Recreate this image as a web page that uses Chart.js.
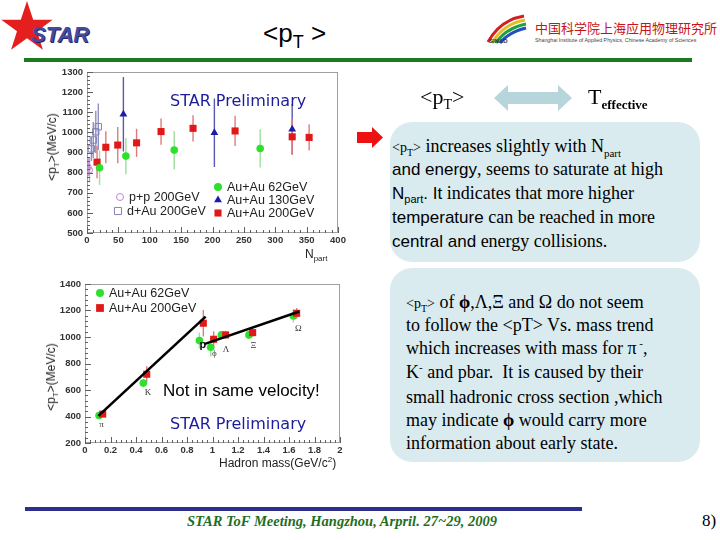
<!DOCTYPE html>
<html><head><meta charset="utf-8">
<script src="https://cdn.jsdelivr.net/npm/chart.js@4.4.1/dist/chart.umd.min.js"></script>
<style>
body{margin:0;background:#fff;}
#slide{position:relative;width:720px;height:540px;overflow:hidden;background:#fff;font-family:'Liberation Sans',Arial,sans-serif;color:#000;}
.abs{position:absolute;white-space:nowrap;}
.tm{font-family:'Liberation Serif','Times New Roman',serif;}
.ar{font-family:'Liberation Sans',Arial,sans-serif;}
.box{position:absolute;background:#d9ebef;border-radius:22px;}
.ln{position:absolute;white-space:nowrap;line-height:24px;height:24px;}
sub,sup{line-height:0;}
.cw{position:absolute;}
</style></head>
<body><div id="slide">
<!-- header -->
<svg class="abs" style="left:0;top:0" width="60" height="56"><polygon points="27,1 33.2,19.7 52.7,19.7 37,31.3 42.9,49.8 27,38.3 11.1,49.8 17,31.3 1.3,19.7 20.8,19.7" fill="#e51e1e"/></svg>
<div class="abs" style="left:31px;top:22px;font:italic bold 22px 'Liberation Sans',Arial;color:#4848a0;text-shadow:1px 1px 0 #2a2a60;">STAR</div>
<div class="abs ar" style="left:263px;top:18px;font-size:26px;">&lt;p<sub style="font-size:18px">T</sub> &gt;</div>
<svg class="abs" style="left:484px;top:12px" width="46" height="38">
<path d="M4,30 Q16,8 40,4" stroke="#d02020" stroke-width="3" fill="none"/>
<path d="M8,31 Q19,12 41,8" stroke="#e0c020" stroke-width="3" fill="none"/>
<path d="M12,31 Q22,16 42,12" stroke="#20a040" stroke-width="3" fill="none"/>
<path d="M16,31 Q25,20 42,16" stroke="#2050c0" stroke-width="3" fill="none"/>
</svg>
<div class="abs ar" style="left:489px;top:38px;font-size:6px;font-weight:bold;color:#333;">SINAD</div>
<div class="abs" style="left:535px;top:18px;font:13px 'Noto Sans CJK SC';color:#c81414;">中国科学院上海应用物理研究所</div>
<div class="abs ar" style="left:535px;top:37px;font-size:5.3px;color:#444;">Shanghai Institute of Applied Physics, Chinese Academy of Sciences</div>
<div class="abs" style="left:24px;top:58px;width:668px;height:3.5px;background:#1e7a1e;"></div>

<!-- top chart -->
<div class="cw" style="left:30px;top:62px;width:320px;height:200px;"><canvas id="c1"></canvas></div>
<div class="abs ar" style="left:52px;top:147px;font-size:12px;color:#222;transform:translate(-50%,-50%) rotate(-90deg);">&lt;p<sub style="font-size:8px">T</sub>&gt;(MeV/c)</div>
<div class="abs ar" style="left:305px;top:247px;font-size:12px;color:#222;">N<sub style="font-size:8px">part</sub></div>
<div class="abs" style="left:170px;top:91px;font:16px 'DejaVu Sans',Verdana;color:#1c1c9c;">STAR Preliminary</div>

<!-- bottom chart -->
<div class="cw" style="left:30px;top:272px;width:320px;height:200px;"><canvas id="c2"></canvas></div>
<div class="abs ar" style="left:51px;top:377px;font-size:12px;color:#222;transform:translate(-50%,-50%) rotate(-90deg);">&lt;p<sub style="font-size:8px">T</sub>&gt;(MeV/c)</div>
<div class="abs ar" style="left:219px;top:456px;font-size:12px;color:#222;">Hadron mass(GeV/c<sup style="font-size:8px">2</sup>)</div>
<div class="abs ar" style="left:163px;top:381px;font-size:17px;color:#000;">Not in same velocity!</div>
<div class="abs" style="left:170px;top:414px;font:16px 'DejaVu Sans',Verdana;color:#1c1c9c;">STAR Preliminary</div>

<!-- right side -->
<div class="abs tm" style="left:420px;top:84px;font-size:22px;">&lt;p<sub style="font-size:14px">T</sub>&gt;</div>
<svg class="abs" style="left:494px;top:84px" width="80" height="28"><polygon points="0,14 14,1 14,8 64,8 64,1 78,14 64,27 64,20 14,20 14,27" fill="#b6d6dc"/></svg>
<div class="abs tm" style="left:588px;top:84px;font-size:22px;">T<sub style="font-size:13px;font-weight:bold">effective</sub></div>
<svg class="abs" style="left:355px;top:127px" width="30" height="22"><polygon points="2,5 17,5 17,0 28,10.5 17,21 17,16 2,16" fill="#ee1111"/></svg>

<div class="box" style="left:390px;top:122px;width:310px;height:140px;"></div>
<div class="box" style="left:390px;top:268px;width:310px;height:194px;"></div>
<div class="ln tm" style="left:392px;top:134px;font-size:18px;"><span style="font-size:14px">&lt;p<sub style="font-size:10px">T</sub>&gt;</span> increases slightly with N<sub style="font-size:11px">part</sub></div>
<div class="ln tm" style="left:392px;top:157px;font-size:18px;"><span class="ar" style="font-size:17px">and energy</span>, seems to saturate at high</div>
<div class="ln tm" style="left:392px;top:181px;font-size:18px;"><span class="ar" style="font-size:17px">N<sub style="font-size:11px">part</sub>. It</span> indicates that more higher</div>
<div class="ln tm" style="left:392px;top:205px;font-size:18px;"><span class="ar" style="font-size:17px">temperature</span> can be reached in more</div>
<div class="ln tm" style="left:392px;top:229px;font-size:18px;"><span class="ar" style="font-size:17px">central and</span> energy collisions.</div>

<div class="ln tm" style="left:406px;top:290px;font-size:18px;"><span style="font-size:14px">&lt;p<sub style="font-size:10px">T</sub>&gt;</span> of <b>ϕ</b>,Λ,Ξ and Ω do not seem</div>
<div class="ln tm" style="left:406px;top:313px;font-size:18px;">to follow the &lt;pT&gt; Vs. mass trend</div>
<div class="ln tm" style="left:406px;top:336px;font-size:18px;">which increases with mass for π<sup style="font-size:11px"> -</sup>,</div>
<div class="ln tm" style="left:406px;top:360px;font-size:18px;">K<sup style="font-size:11px">-</sup> and pbar.&nbsp; It is caused by their</div>
<div class="ln tm" style="left:406px;top:385px;font-size:18px;">small hadronic cross section ,which</div>
<div class="ln tm" style="left:406px;top:408px;font-size:18px;">may indicate <b>ϕ</b> would carry more</div>
<div class="ln tm" style="left:406px;top:431px;font-size:18px;">information about early state.</div>

<!-- footer -->
<div class="abs" style="left:25px;top:507px;width:557px;height:4px;background:#2e2e8c;"></div>
<div class="abs tm" style="left:187px;top:513px;font-size:14.5px;font-style:italic;font-weight:bold;color:#1e6e1e;">STAR ToF Meeting, Hangzhou, Arpril. 27~29, 2009</div>
<div class="abs tm" style="left:702px;top:511px;font-size:17px;">8)</div>
</div>

<script>
// ===== top chart data: <pT> vs Npart =====
const ppNpart  = [2, 4];
const ppPt     = [828, 812];
const ppErr    = [45, 60];
const dauNpart = [7, 10, 14, 18];
const dauPt    = [918, 962, 1003, 1028];
const dauErr   = [60, 90, 105, 115];
const au62Npart = [20, 62, 139, 276];
const au62Pt    = [824, 882, 912, 920];
const au62Err   = [85, 90, 95, 95];
const au130Npart = [58, 203, 327];
const au130Pt    = [1090, 998, 1016];
const au130Err   = [185, 170, 125];
const au200Npart = [16, 30, 49, 79, 118, 169, 236, 327, 354];
const au200Pt    = [852, 926, 937, 948, 1004, 1020, 1007, 978, 975];
const au200Err   = [80, 80, 90, 70, 65, 65, 75, 90, 65];
const topXTicks = [0, 400, 50];
const topYTicks = [500, 1300, 100];

// ===== bottom chart data: <pT> vs hadron mass =====
const particles = ['π', 'K', 'p', 'ϕ', 'Λ', 'Ξ', 'Ω'];
const mass62  = [0.11, 0.457, 0.897, 0.986, 1.07, 1.286, 1.634];
const pt62    = [408, 652, 973, 923, 1016, 1016, 1159];
const err62   = [25, 30, 60, 70, 30, 30, 50];
const mass200 = [0.139, 0.484, 0.928, 1.009, 1.103, 1.315, 1.66];
const pt200   = [418, 719, 1104, 983, 1016, 1033, 1179];
const err200  = [20, 60, 100, 60, 30, 30, 40];
const labelMass = [0.13, 0.494, 0.925, 1.014, 1.106, 1.32, 1.673];
const labelPt   = [338, 579, 941, 873, 903, 933, 1066];
const trend1Mass = [0.105, 0.946];
const trend1Pt   = [405, 1154];
const trend2Mass = [0.941, 1.681];
const trend2Pt   = [948, 1192];
const botXTicks = [0, 2, 0.2];
const botYTicks = [200, 1400, 200];

const pts = (xs, ys) => xs.map((x, i) => ({x: x, y: ys[i]}));

function marker(ctx, style, x, y, r, fill, stroke, lw){
  ctx.save(); ctx.beginPath();
  if(style==='circle'){ ctx.arc(x,y,r,0,Math.PI*2); }
  else if(style==='rect'){ const s=r*Math.SQRT1_2; ctx.rect(x-s,y-s,2*s,2*s); }
  else if(style==='triangle'){ ctx.moveTo(x,y-r); ctx.lineTo(x+r*0.87,y+r*0.5); ctx.lineTo(x-r*0.87,y+r*0.5); ctx.closePath(); }
  if(fill){ ctx.fillStyle=fill; ctx.fill(); }
  if(stroke){ ctx.strokeStyle=stroke; ctx.lineWidth=lw||1; ctx.stroke(); }
  ctx.restore();
}

const errBars = {
  id:'errBars',
  beforeDatasetsDraw(chart){
    const ctx=chart.ctx, xs=chart.scales.x, ys=chart.scales.y, a=chart.chartArea;
    ctx.save(); ctx.beginPath(); ctx.rect(a.left,a.top,a.width,a.height); ctx.clip();
    chart.data.datasets.forEach(ds=>{
      if(!ds.errors) return;
      ctx.strokeStyle=ds.errorColor; ctx.lineWidth=1.4;
      ds.data.forEach((p,j)=>{
        const px=xs.getPixelForValue(p.x);
        ctx.beginPath();
        ctx.moveTo(px, ys.getPixelForValue(p.y-ds.errors[j]));
        ctx.lineTo(px, ys.getPixelForValue(p.y+ds.errors[j]));
        ctx.stroke();
      });
    });
    ctx.restore();
  }
};

const rootFrame = {
  id:'rootFrame',
  afterDraw(chart,args,o){
    const ctx=chart.ctx, a=chart.chartArea, x=chart.scales.x, y=chart.scales.y;
    ctx.save();
    ctx.strokeStyle='#a0a0a0'; ctx.lineWidth=1;
    ctx.strokeRect(a.left+0.5,a.top+0.5,a.width-1,a.height-1);
    ctx.strokeStyle='#606060';
    const nx=Math.round((x.max-x.min)/o.xMinor);
    for(let i=0;i<=nx;i++){
      const v=x.min+i*o.xMinor, px=Math.round(x.getPixelForValue(v))+0.5;
      const major=(i%o.xDiv)===0, len=major?6:3;
      ctx.beginPath(); ctx.moveTo(px,a.bottom); ctx.lineTo(px,a.bottom-len); ctx.stroke();
    }
    const ny=Math.round((y.max-y.min)/o.yMinor);
    for(let i=0;i<=ny;i++){
      const v=y.min+i*o.yMinor, py=Math.round(y.getPixelForValue(v))+0.5;
      const major=(i%o.yDiv)===0, len=major?6:3;
      ctx.beginPath(); ctx.moveTo(a.left,py); ctx.lineTo(a.left+len,py); ctx.stroke();
    }
    ctx.restore();
  }
};

const inLegend = {
  id:'inLegend',
  afterDraw(chart,args,o){
    if(!o.items) return;
    const ctx=chart.ctx, a=chart.chartArea;
    ctx.save();
    ctx.font=o.font; ctx.textBaseline='middle'; ctx.fillStyle='#222';
    o.items.forEach(it=>{
      const x=a.left+it.dx, y=a.top+it.dy;
      marker(ctx,it.style,x,y,it.r,it.fill,it.stroke,it.lw);
      ctx.fillStyle='#222'; ctx.fillText(it.text,x+9,y+0.5);
    });
    ctx.restore();
  }
};

const pLabels = {
  id:'pLabels',
  afterDatasetsDraw(chart,args,o){
    if(!o.names) return;
    const ctx=chart.ctx, x=chart.scales.x, y=chart.scales.y;
    ctx.save(); ctx.textAlign='center'; ctx.textBaseline='middle';
    o.names.forEach((t,i)=>{
      ctx.font = (t==='p') ? "bold 11px 'Liberation Sans'" : "9px 'Liberation Serif'";
      ctx.fillStyle = (t==='p') ? '#000' : '#333';
      ctx.fillText(t, x.getPixelForValue(o.xs[i]), y.getPixelForValue(o.ys[i]));
    });
    ctx.restore();
  }
};

const tickFont = {family:"'Liberation Sans', Arial", size:9.5, weight:'bold'};
const fmt = v => String(Number(Number(v).toFixed(2)));

function baseScales(xt, yt, xH, yW, xPad){
  return {
    x:{type:'linear',min:xt[0],max:xt[1],
       ticks:{stepSize:xt[2],font:tickFont,color:'#333',padding:xPad,maxRotation:0,autoSkip:false,callback:fmt},
       grid:{display:false,drawTicks:false},border:{display:false},
       afterFit:s=>{s.height=xH;}},
    y:{type:'linear',min:yt[0],max:yt[1],
       ticks:{stepSize:yt[2],font:tickFont,color:'#333',padding:4,callback:fmt},
       grid:{display:false,drawTicks:false},border:{display:false},
       afterFit:s=>{s.width=yW;}}
  };
}

Chart.defaults.animation=false;

new Chart(document.getElementById('c1'),{
  type:'scatter',
  data:{datasets:[
    {label:'p+p 200GeV',data:pts(ppNpart,ppPt),errors:ppErr,errorColor:'#c8a0d8',pointStyle:'circle',pointRadius:3,backgroundColor:'rgba(255,255,255,0)',borderColor:'#c084d0',borderWidth:1},
    {label:'d+Au 200GeV',data:pts(dauNpart,dauPt),errors:dauErr,errorColor:'#9090c0',pointStyle:'rect',pointRadius:4.5,backgroundColor:'rgba(255,255,255,0)',borderColor:'#8484bc',borderWidth:1},
    {label:'Au+Au 62GeV',data:pts(au62Npart,au62Pt),errors:au62Err,errorColor:'#9be09b',pointStyle:'circle',pointRadius:3.8,backgroundColor:'#2ee02e',borderColor:'#2ee02e',borderWidth:0},
    {label:'Au+Au 130GeV',data:pts(au130Npart,au130Pt),errors:au130Err,errorColor:'#5858b0',pointStyle:'triangle',pointRadius:4.5,backgroundColor:'#1c1caa',borderColor:'#1c1caa',borderWidth:0},
    {label:'Au+Au 200GeV',data:pts(au200Npart,au200Pt),errors:au200Err,errorColor:'#e27a7a',pointStyle:'rect',pointRadius:5,backgroundColor:'#e01818',borderColor:'#e01818',borderWidth:0}
  ]},
  options:{responsive:true,maintainAspectRatio:false,animation:false,
    layout:{padding:{left:0,right:12,top:10,bottom:0}},
    scales:baseScales(topXTicks,topYTicks,29,57,2),
    plugins:{legend:{display:false},tooltip:{enabled:false},
      rootFrame:{xMinor:10,xDiv:5,yMinor:20,yDiv:5},
      inLegend:{font:"12.5px 'Liberation Sans'",items:[
        {dx:33,dy:125,style:'circle',r:3.5,fill:null,stroke:'#c084d0',lw:1,text:'p+p 200GeV'},
        {dx:31,dy:139,style:'rect',r:5,fill:null,stroke:'#8484bc',lw:1,text:'d+Au 200GeV'},
        {dx:131,dy:115,style:'circle',r:4,fill:'#2ee02e',text:'Au+Au 62GeV'},
        {dx:131,dy:128,style:'triangle',r:4.5,fill:'#1c1caa',text:'Au+Au 130GeV'},
        {dx:131,dy:141,style:'rect',r:5,fill:'#e01818',text:'Au+Au 200GeV'}
      ]}
    }
  },
  plugins:[errBars,rootFrame,inLegend]
});

new Chart(document.getElementById('c2'),{
  type:'scatter',
  data:{datasets:[
    {label:'trend1',type:'line',data:pts(trend1Mass,trend1Pt),showLine:true,borderColor:'#000',borderWidth:2.6,pointRadius:0,fill:false,order:0},
    {label:'trend2',type:'line',data:pts(trend2Mass,trend2Pt),showLine:true,borderColor:'#000',borderWidth:2.6,pointRadius:0,fill:false,order:0},
    {label:'Au+Au 62GeV',data:pts(mass62,pt62),errors:err62,errorColor:'#9be09b',pointStyle:'circle',pointRadius:3.8,backgroundColor:'#2ee02e',borderColor:'#2ee02e',borderWidth:0,order:2},
    {label:'Au+Au 200GeV',data:pts(mass200,pt200),errors:err200,errorColor:'#e27a7a',pointStyle:'rect',pointRadius:5,backgroundColor:'#e01818',borderColor:'#e01818',borderWidth:0,order:1}
  ]},
  options:{responsive:true,maintainAspectRatio:false,animation:false,
    layout:{padding:{left:0,right:10,top:12,bottom:0}},
    scales:baseScales(botXTicks,botYTicks,29,55,2),
    plugins:{legend:{display:false},tooltip:{enabled:false},
      rootFrame:{xMinor:0.04,xDiv:5,yMinor:40,yDiv:5},
      pLabels:{names:particles,xs:labelMass,ys:labelPt},
      inLegend:{font:"12.5px 'Liberation Sans'",items:[
        {dx:15,dy:9,style:'circle',r:4,fill:'#2ee02e',text:'Au+Au 62GeV'},
        {dx:15,dy:24,style:'rect',r:5.5,fill:'#e01818',text:'Au+Au 200GeV'}
      ]}
    }
  },
  plugins:[errBars,rootFrame,inLegend,pLabels]
});
</script>
</body></html>
